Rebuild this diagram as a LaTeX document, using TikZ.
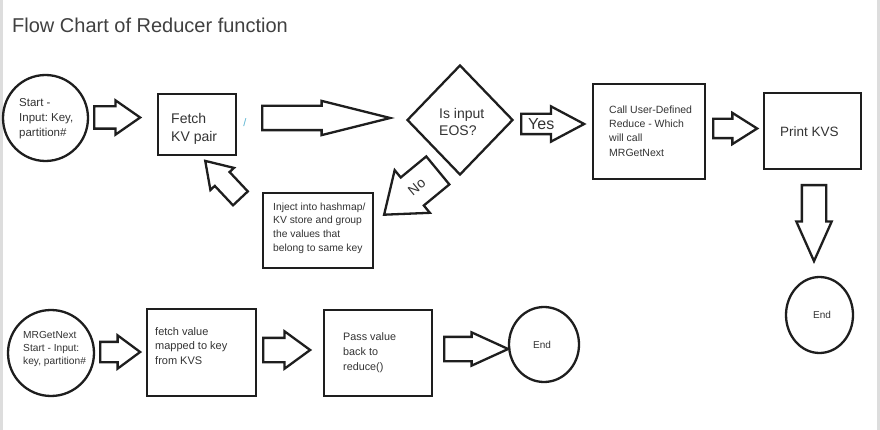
\documentclass[tikz,border=0pt]{standalone}
\usepackage{fontspec}
\setmainfont{Liberation Sans}
\usetikzlibrary{shapes.arrows,shapes.geometric}
\definecolor{linec}{HTML}{1E1E1E}
\definecolor{txtc}{HTML}{333333}
\definecolor{titlec}{HTML}{404040}
\definecolor{edgec}{HTML}{DDDDDD}
\definecolor{slashc}{HTML}{5AB4D2}
\newcommand\fsz[2]{\fontsize{#1}{#2}\selectfont}
\begin{document}
\frenchspacing
\begin{tikzpicture}[x=1pt,y=-1pt,
  box/.style={draw=linec, line width=2.6pt, rectangle, inner sep=0pt},
  circ/.style={draw=linec, line width=2.3pt, ellipse, inner sep=0pt},
  blk/.style={single arrow, draw=linec, line width=2.3pt, inner sep=0pt, anchor=tail, text depth=0pt},
  txt/.style={text=txtc, inner sep=0pt, align=left, anchor=north west},
  lbl/.style={text=txtc, inner sep=0pt},
]
\useasboundingbox (0,0) rectangle (880,430);
\fill[white] (0,0) rectangle (880,430);
\fill[edgec] (0,0) rectangle (3,430);
\fill[edgec] (877,0) rectangle (880,430);

% title
\node[lbl, text=titlec, anchor=base west, font=\fsz{20}{24}] (title) at (12,33) {Flow Chart of Reducer function};

% shapes (top flow)
\node[circ, minimum width=85, minimum height=86] (start) at (45.5,118) {};
\node[box, minimum width=78, minimum height=61] (fetch) at (197,124.5) {};
\node[diamond, draw=linec, line width=2.3pt, inner sep=0pt, minimum width=106, minimum height=110] (eos) at (460,120) {};
\node[box, minimum width=112, minimum height=95] (call) at (649,131.5) {};
\node[box, minimum width=97, minimum height=76] (print) at (812.5,131) {};
\node[circ, minimum width=67, minimum height=76] (endR) at (819.5,315) {};
\node[box, minimum width=110, minimum height=75] (inject) at (318,230.5) {};

% shapes (bottom flow)
\node[circ, minimum width=86, minimum height=86] (mrg) at (51,353) {};
\node[box, minimum width=109, minimum height=87] (fetchv) at (201.5,352.5) {};
\node[box, minimum width=108, minimum height=86] (pass) at (378,353) {};
\node[circ, minimum width=70, minimum height=75] (endB) at (544,344.5) {};

% block arrows (top flow)
\node[blk, text height=20pt, minimum height=46, minimum width=32, single arrow head extend=6, single arrow tip angle=69.6] (a1) at (93,117.5) {};
\node[blk, text height=22pt, minimum height=128, minimum width=32, single arrow head extend=5, single arrow tip angle=28.1] (a2) at (261,118) {};
\node[blk, text height=18pt, minimum height=63, minimum width=33, single arrow head extend=7.5, single arrow tip angle=56] (ayes) at (520,124) {};
\node[blk, text height=17pt, minimum height=44, minimum width=29, single arrow head extend=6, single arrow tip angle=64.5] (a4) at (712,128.5) {};
\node[blk, text height=22pt, rotate=-90, minimum height=76, minimum width=33, single arrow head extend=5.5, single arrow tip angle=48.1] (adown) at (814,184) {};
\node[blk, text height=34pt, rotate=219.5, minimum height=69.6, minimum width=53, single arrow head extend=9.5, single arrow tip angle=74.3] (ano) at (438.7,169.7) {};
\node[blk, text height=18pt, rotate=133.2, minimum height=51.4, minimum width=30, single arrow head extend=6, single arrow tip angle=66.2] (aback) at (241.2,199.2) {};

% block arrows (bottom flow)
\node[blk, text height=18pt, minimum height=40, minimum width=31, single arrow head extend=6.5, single arrow tip angle=72.9] (b1) at (99,352) {};
\node[blk, text height=22pt, minimum height=47, minimum width=35, single arrow head extend=6.5, single arrow tip angle=72.2] (b2) at (262,350) {};
\node[blk, text height=22pt, minimum height=64, minimum width=31, single arrow head extend=4.5, single arrow tip angle=49] (b3) at (443,349) {};

% texts
\node[txt, font=\fsz{11.5}{15}] (start-t) at (19,98.7) {Start -\\Input: Key,\\partition\#};
\node[txt, font=\fsz{14}{18}] (fetch-t) at (171,112.9) {Fetch\\KV pair};
\node[lbl, text=slashc, font=\fsz{11}{11}] (slash) at (245,122.5) {/};
\node[txt, font=\fsz{14}{17}] (eos-t) at (439,108) {Is input\\EOS?};
\node[lbl, anchor=base west, font=\fsz{16}{16}] (yes-t) at (528,130) {Yes};
\node[txt, font=\fsz{10.5}{14.3}] (call-t) at (609,105.4) {Call User-Defined\\Reduce - Which\\will call\\MRGetNext};
\node[txt, font=\fsz{13.5}{16}] (print-t) at (780,126.3) {Print KVS};
\node[lbl, anchor=base, font=\fsz{10}{12}] (endR-t) at (822,318) {End};
\node[lbl, rotate=39.5, font=\fsz{14}{14}] (no-t) at (416.7,186.7) {No};
\node[txt, font=\fsz{10.3}{13.7}] (inject-t) at (273,202.6) {Inject into hashmap/\\KV store and group\\the values that\\belong to same key};
\node[txt, font=\fsz{10.2}{13}] (mrg-t) at (23,330.7) {MRGetNext\\Start - Input:\\key, partition\#};
\node[txt, font=\fsz{11}{14.5}] (fetchv-t) at (155,327) {fetch value\\mapped to key\\from KVS};
\node[txt, font=\fsz{10.8}{15}] (pass-t) at (343,332.2) {Pass value\\back to\\reduce()};
\node[lbl, anchor=base, font=\fsz{10}{12}] (endB-t) at (542,348) {End};
\end{tikzpicture}
\end{document}
